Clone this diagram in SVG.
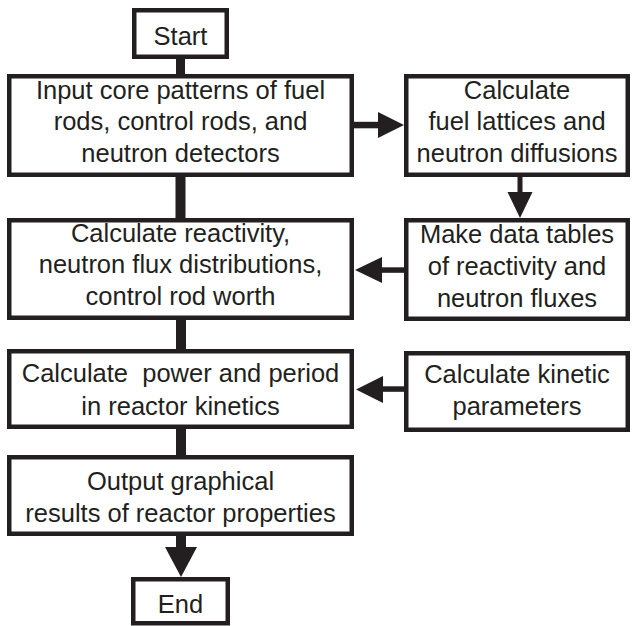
<svg xmlns="http://www.w3.org/2000/svg" width="632" height="626" viewBox="0 0 632 626">
<style>
.box{fill:#fff;stroke:#231f20;stroke-width:4.5}
.t{font-family:"Liberation Sans",Arial,sans-serif;font-size:25.5px;fill:#231f20;text-anchor:middle}
.c{fill:#231f20}
</style>
<rect width="632" height="626" fill="#fff"/>
<g id="connectors">
<rect class="c" x="176" y="57" width="9" height="19"/>
<rect class="c" x="175.5" y="175" width="10" height="45"/>
<rect class="c" x="176" y="318" width="10" height="33"/>
<rect class="c" x="176" y="427" width="10" height="30"/>
<rect class="c" x="176" y="534" width="10" height="15"/>
<polygon class="c" points="165,547 197,547 181,577"/>
<rect class="c" x="352" y="121.8" width="28" height="6.5"/>
<polygon class="c" points="378,112 404,125 378,138"/>
<rect class="c" x="517.5" y="175" width="5" height="19"/>
<polygon class="c" points="507.5,192 532.5,192 520,218"/>
<rect class="c" x="379" y="267.3" width="26" height="5.5"/>
<polygon class="c" points="382,257 355,270 382,283"/>
<rect class="c" x="381" y="386.3" width="24" height="5.5"/>
<polygon class="c" points="383,376 356,389.5 383,403"/>
</g>
<g id="start"><rect class="box" x="134.25" y="10.25" width="92.5" height="46.5"/><text class="t" x="180.5" y="45">Start</text></g>
<g id="input"><rect class="box" x="9.25" y="76.25" width="342.5" height="98.5"/>
<text class="t" x="180.5" y="99">Input core patterns of fuel</text>
<text class="t" x="180.5" y="130">rods, control rods, and</text>
<text class="t" x="180.5" y="162">neutron detectors</text></g>
<g id="lattice"><rect class="box" x="406.25" y="76.25" width="221.5" height="98.5"/>
<text class="t" x="517" y="99">Calculate</text>
<text class="t" x="517" y="130">fuel lattices and</text>
<text class="t" x="517" y="162">neutron diffusions</text></g>
<g id="reactivity"><rect class="box" x="9.25" y="220.25" width="342.5" height="97.5"/>
<text class="t" x="180.5" y="242">Calculate reactivity,</text>
<text class="t" x="180.5" y="273">neutron flux distributions,</text>
<text class="t" x="180.5" y="305">control rod worth</text></g>
<g id="tables"><rect class="box" x="406.25" y="220.25" width="221.5" height="98.5"/>
<text class="t" x="517" y="243">Make data tables</text>
<text class="t" x="517" y="275">of reactivity and</text>
<text class="t" x="517" y="307">neutron fluxes</text></g>
<g id="kinetics"><rect class="box" x="9.25" y="351.25" width="342.5" height="75.5"/>
<text class="t" x="180.5" y="382" xml:space="preserve">Calculate  power and period</text>
<text class="t" x="180.5" y="415">in reactor kinetics</text></g>
<g id="params"><rect class="box" x="406.25" y="353.25" width="221.5" height="76.5"/>
<text class="t" x="517" y="383">Calculate kinetic</text>
<text class="t" x="517" y="415">parameters</text></g>
<g id="output"><rect class="box" x="9.25" y="457.25" width="342.5" height="76.5"/>
<text class="t" x="180.5" y="490">Output graphical</text>
<text class="t" x="180.5" y="522">results of reactor properties</text></g>
<g id="end"><rect class="box" x="133.25" y="579.25" width="94.5" height="44"/><text class="t" x="180.5" y="613">End</text></g>
</svg>
